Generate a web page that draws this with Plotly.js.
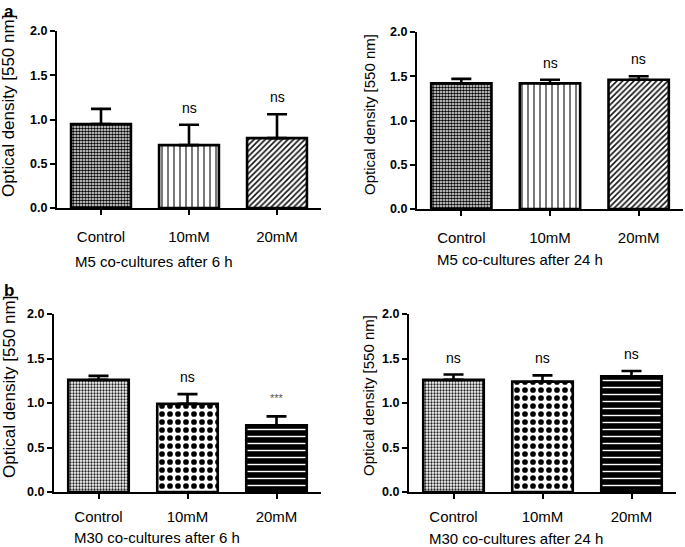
<!DOCTYPE html>
<html><head><meta charset="utf-8">
<script src="https://cdn.plot.ly/plotly-3.0.1.min.js"></script>
<style>body{margin:0;background:#fff;}#chart{width:685px;height:547px;}</style>
</head><body><div id="chart"></div>
<script>
// ---- data ----
const categories = ['Control', '10mM', '20mM'];
const m5_6h_mean = [0.95, 0.71, 0.79];
const m5_6h_sd = [0.17, 0.23, 0.27];
const m5_6h_sig = ['', 'ns', 'ns'];
const m5_24h_mean = [1.42, 1.42, 1.46];
const m5_24h_sd = [0.05, 0.04, 0.04];
const m5_24h_sig = ['', 'ns', 'ns'];
const m30_6h_mean = [1.26, 0.99, 0.75];
const m30_6h_sd = [0.045, 0.11, 0.10];
const m30_6h_sig = ['', 'ns', '***'];
const m30_24h_mean = [1.26, 1.24, 1.30];
const m30_24h_sd = [0.06, 0.07, 0.06];
const m30_24h_sig = ['ns', 'ns', 'ns'];
const yTickVals = [0, 0.5, 1.0, 1.5, 2.0];
const yTickText = ['0.0', '0.5', '1.0', '1.5', '2.0'];
const panelTitles = ['M5 co-cultures after 6 h', 'M5 co-cultures after 24 h',
                     'M30 co-cultures after 6 h', 'M30 co-cultures after 24 h'];
const yTitle = 'Optical density [550 nm]';
const panelLetters = ['a', 'b'];

// ---- layout helpers ----
const W = 685, H = 547;
const FONT = "'Liberation Sans', Arial, sans-serif";
const xd = (a, b) => [a / W, b / W];
const yd = (top, bot) => [1 - bot / H, 1 - top / H];
const px = v => v / W;
const py = v => 1 - v / H;

const patA = {shape: ['.', '|', '/'], size: [3, 6, 4], solidity: [0.6, 0.22, 0.4],
  fgcolor: ['#000', '#333', '#111'], bgcolor: ['#fff', '#fff', '#fff'], fillmode: 'replace'};
const patB = {shape: ['.', '.', '-'], size: [3, 8, 7], solidity: [0.45, 0.4, 0.2],
  fgcolor: ['#222', '#000', '#fff'], bgcolor: ['#fff', '#fff', '#000'], fillmode: 'replace'};

const panels = [
  {mean: m5_6h_mean, sd: m5_6h_sd, sig: m5_6h_sig, pat: patA, xdom: [57, 321], ydom: [31, 208],
   title: panelTitles[0], tx: 154, ty: 261, ytx: 9, yty: 106, ytsize: 17, standoff: 9},
  {mean: m5_24h_mean, sd: m5_24h_sd, sig: m5_24h_sig, pat: patA, xdom: [417, 683], ydom: [32, 209],
   title: panelTitles[1], tx: 520, ty: 259, ytx: 370, yty: 115, ytsize: 15, standoff: 9},
  {mean: m30_6h_mean, sd: m30_6h_sd, sig: m30_6h_sig, pat: patB, xdom: [54, 321], ydom: [314, 492],
   title: panelTitles[2], tx: 157, ty: 537, ytx: 9, yty: 387, ytsize: 17, standoff: 5},
  {mean: m30_24h_mean, sd: m30_24h_sd, sig: m30_24h_sig, pat: patB, xdom: [409, 676], ydom: [314, 492],
   title: panelTitles[3], tx: 516, ty: 538, ytx: 368, yty: 396, ytsize: 15, standoff: 5}
];

const traces = [];
const annotations = [];
const layout = {
  width: W, height: H, margin: {l: 0, r: 0, t: 0, b: 0},
  paper_bgcolor: '#fff', plot_bgcolor: '#fff', showlegend: false,
  font: {family: FONT, color: '#000'}, annotations: annotations
};

panels.forEach((p, i) => {
  const n = i + 1;
  const xa = 'x' + (n === 1 ? '' : n), ya = 'y' + (n === 1 ? '' : n);
  traces.push({
    type: 'bar', x: categories, y: p.mean, xaxis: xa, yaxis: ya, width: 0.68,
    marker: {color: '#fff', line: {color: '#000', width: 2.6}, pattern: p.pat},
    error_y: {type: 'data', symmetric: false, array: p.sd, arrayminus: p.sd.map(() => 0),
              color: '#000', thickness: 2.6, width: 10},
    cliponaxis: false, hoverinfo: 'skip'
  });
  layout['xaxis' + (n === 1 ? '' : n)] = {
    domain: xd(p.xdom[0], p.xdom[1]), anchor: ya, range: [-0.5, 2.5],
    type: 'category', showline: true, linecolor: '#000', linewidth: 2,
    ticks: 'outside', ticklen: 5, tickwidth: 2, tickcolor: '#000',
    ticklabelstandoff: p.standoff,
    tickfont: {family: FONT, size: 15, color: '#000'}, showgrid: false, zeroline: false,
    fixedrange: true
  };
  layout['yaxis' + (n === 1 ? '' : n)] = {
    domain: yd(p.ydom[0], p.ydom[1]), anchor: xa, range: [0, 2],
    tickvals: yTickVals, ticktext: yTickText, showline: true, linecolor: '#000', linewidth: 2,
    ticks: 'outside', ticklen: 5, tickwidth: 2, tickcolor: '#000',
    tickfont: {family: FONT, size: 12.5, color: '#000', weight: 'bold'},
    showgrid: false, zeroline: false, fixedrange: true
  };
  // significance labels
  p.sig.forEach((s, k) => {
    if (!s) return;
    annotations.push({
      xref: xa, yref: ya, x: categories[k], y: p.mean[k] + p.sd[k], yshift: s === '***' ? 18 : 17,
      yanchor: 'middle', text: s, showarrow: false,
      font: {family: FONT, size: s === '***' ? 11 : 14, color: s === '***' ? '#555' : '#000'}
    });
  });
  // x title
  annotations.push({xref: 'paper', yref: 'paper', x: px(p.tx), y: py(p.ty), xanchor: 'center', yanchor: 'middle',
    text: p.title, showarrow: false, font: {family: FONT, size: 15, color: '#000'}});
  // y title
  annotations.push({xref: 'paper', yref: 'paper', x: px(p.ytx), y: py(p.yty), xanchor: 'center', yanchor: 'middle',
    text: yTitle, textangle: -90, showarrow: false, font: {family: FONT, size: p.ytsize, color: '#000'}});
});

// panel letters
annotations.push({xref: 'paper', yref: 'paper', x: px(9), y: py(11), xanchor: 'center', yanchor: 'middle',
  text: '<b>' + panelLetters[0] + '</b>', showarrow: false, font: {family: FONT, size: 17, color: '#000'}});
annotations.push({xref: 'paper', yref: 'paper', x: px(9), y: py(291), xanchor: 'center', yanchor: 'middle',
  text: '<b>' + panelLetters[1] + '</b>', showarrow: false, font: {family: FONT, size: 17, color: '#000'}});

Plotly.newPlot('chart', traces, layout, {staticPlot: true, displayModeBar: false});
</script>
</body></html>
